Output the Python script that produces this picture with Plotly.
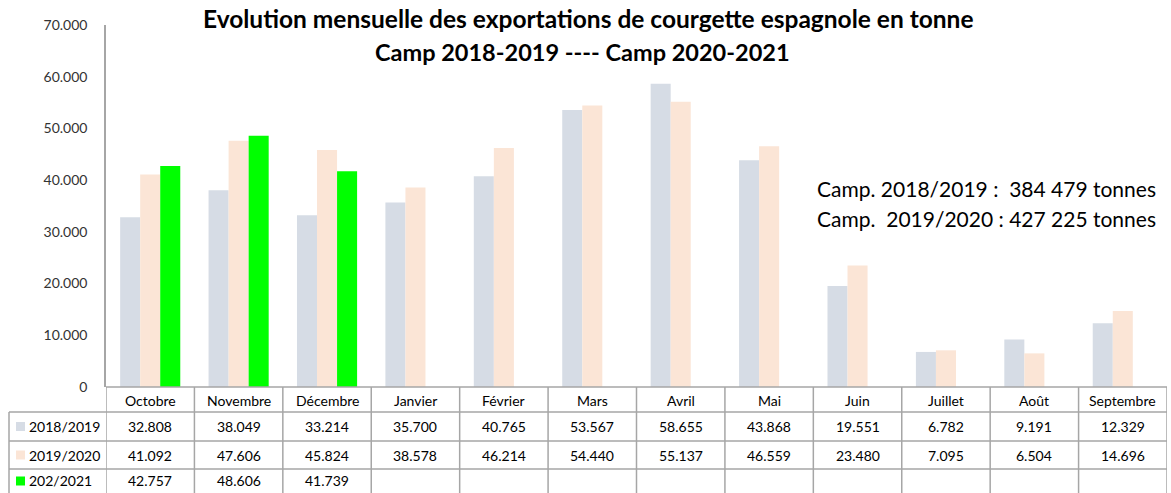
import plotly.graph_objects as go

months = ["Octobre", "Novembre", "Décembre", "Janvier", "Février", "Mars",
          "Avril", "Mai", "Juin", "Juillet", "Août", "Septembre"]
series_names = ["2018/2019", "2019/2020", "202/2021"]
camp_1819 = [32808, 38049, 33214, 35700, 40765, 53567, 58655, 43868, 19551, 6782, 9191, 12329]
camp_1920 = [41092, 47606, 45824, 38578, 46214, 54440, 55137, 46559, 23480, 7095, 6504, 14696]
camp_2021 = [42757, 48606, 41739, None, None, None, None, None, None, None, None, None]
colors = ["#D6DCE5", "#FBE5D6", "#00FF00"]
title_lines = ["Evolution mensuelle des exportations de courgette espagnole en tonne",
               "Camp 2018-2019 ---- Camp 2020-2021"]
notes = ["Camp. 2018/2019 :\u00a0\u00a0384 479 tonnes",
         "Camp.\u00a0\u00a02019/2020 : 427 225 tonnes"]

W, H = 1171, 493
L, R, T, B = 106, 4, 25, 106
PW, PH = W - L - R, H - T - B
FONT = "Lato"


def px_x(x):
    return (x - L) / PW


def px_y(y):
    return (H - B - y) / PH


def fmt(v):
    return "" if v is None else f"{v:,}".replace(",", ".")


series = [camp_1819, camp_1920, camp_2021]

fig = go.Figure()
for name, vals, c in zip(series_names, series, colors):
    fig.add_trace(go.Bar(x=months, y=vals, name=name, marker=dict(color=c, line=dict(width=0))))

shapes = []
annotations = []
grid_col = "#A6A6A6"

# Title
annotations.append(dict(text=f"<b>{title_lines[0]}</b>", xref="paper", yref="paper",
                        x=px_x(588), y=px_y(18), xanchor="center", yanchor="middle",
                        showarrow=False, font=dict(family=FONT, size=24.5, color="black")))
annotations.append(dict(text=f"<b>{title_lines[1]}</b>", xref="paper", yref="paper",
                        x=px_x(582), y=px_y(52), xanchor="center", yanchor="middle",
                        showarrow=False, font=dict(family=FONT, size=23.5, color="black")))
# Notes
for i, n in enumerate(notes):
    annotations.append(dict(text=n, xref="paper", yref="paper", x=px_x(815), y=px_y(189 + 29 * i),
                            xanchor="left", yanchor="middle", showarrow=False,
                            font=dict(family=FONT, size=21, color="black")))

# Table lines
row_lines = [412, 441, 469]
shapes.append(dict(type="line", xref="paper", yref="paper", x0=0, x1=1, y0=px_y(387), y1=px_y(387),
                   line=dict(color=grid_col, width=1.5)))
for yl in row_lines:
    shapes.append(dict(type="line", xref="paper", yref="paper", x0=px_x(9), x1=1, y0=px_y(yl), y1=px_y(yl),
                       line=dict(color=grid_col, width=1.5)))
for i in range(len(months) + 1):
    shapes.append(dict(type="line", xref="x", yref="paper", x0=i - 0.5, x1=i - 0.5,
                       y0=px_y(387), y1=px_y(500), line=dict(color=grid_col, width=1.5)))
shapes.append(dict(type="line", xref="paper", yref="paper", x0=px_x(9), x1=px_x(9),
                   y0=px_y(412), y1=px_y(500), line=dict(color=grid_col, width=1.5)))

# Header row
for m in months:
    annotations.append(dict(text=m, xref="x", yref="paper", x=m, y=px_y(400), xanchor="center",
                            yanchor="middle", showarrow=False, font=dict(family=FONT, size=14, color="black")))
row_centers = [426.5, 455, 481]
for name, vals, c, yc in zip(series_names, series, colors, row_centers):
    shapes.append(dict(type="rect", xref="paper", yref="paper", x0=px_x(16), x1=px_x(25),
                       y0=px_y(yc - 4.5), y1=px_y(yc + 4.5), fillcolor=c, line=dict(width=0)))
    annotations.append(dict(text=name, xref="paper", yref="paper", x=px_x(27), y=px_y(yc),
                            xanchor="left", yanchor="middle", showarrow=False,
                            font=dict(family=FONT, size=14, color="black")))
    for m, v in zip(months, vals):
        if v is None:
            continue
        annotations.append(dict(text=fmt(v), xref="x", yref="paper", x=m, y=px_y(yc), xanchor="center",
                                yanchor="middle", showarrow=False, font=dict(family=FONT, size=14, color="black")))

fig.update_layout(
    width=W, height=H, margin=dict(l=L, r=R, t=T, b=B, pad=0, autoexpand=False),
    paper_bgcolor="white", plot_bgcolor="white",
    barmode="group", bargap=0.32, bargroupgap=0,
    showlegend=False, separators=",.",
    font=dict(family=FONT, size=14, color="#404040"),
    shapes=shapes, annotations=annotations,
    xaxis=dict(range=[-0.5, len(months) - 0.5], showticklabels=False, showline=False,
               showgrid=False, zeroline=False, ticks=""),
    yaxis=dict(range=[0, 70000], dtick=10000, tickformat=",d", showgrid=False, zeroline=False,
               showline=True, linecolor=grid_col, linewidth=1.5, ticks="", ticklabelstandoff=14,
               tickfont=dict(family=FONT, size=14, color="#333333")),
)

fig.write_html("out.html", config={"displayModeBar": False},
               post_script="document.body.style.margin='0';document.body.style.overflow='hidden';")
